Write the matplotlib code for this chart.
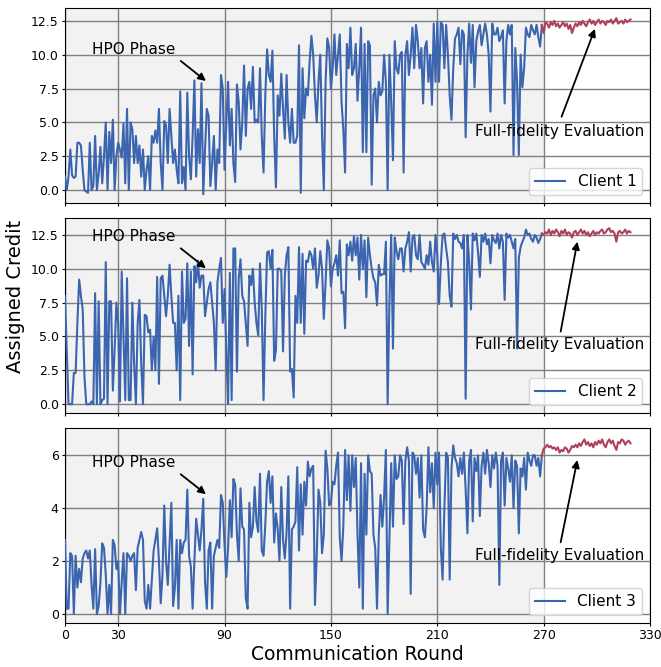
import numpy as np
import matplotlib
matplotlib.use('Agg')
import matplotlib.pyplot as plt

# Assigned credit per communication round (HPO phase, rounds 0-269)
client1_hpo = [
    1.0, 0.0, 1.0, 3.0, 1.1, 0.9, 1.0, 3.5, 3.5, 3.3,
    1.5, 0.0, -0.1, -0.2, 3.5, 0.0, 0.3, 4.0, 0.0, 1.2,
    3.2, 0.5, 2.5, 5.0, 0.0, 4.3, 2.0, 5.2, 0.0, 2.5,
    3.5, 3.0, 2.4, 4.9, 0.5, 6.0, 0.0, 5.0, 4.5, 2.0,
    4.0, 2.0, 3.3, 1.0, 3.0, 0.0, 1.5, 2.5, 0.0, 4.0,
    3.5, 4.4, 3.5, 6.0, 2.0, 0.0, 5.1, 4.8, 2.0, 6.0,
    4.0, 2.0, 3.0, 1.5, 0.5, 7.3, 0.5, 1.7, 0.0, 7.2,
    2.5, 0.8, 4.0, 8.1, 1.0, 4.5, 2.0, 7.9, -0.3, 3.0,
    6.0, 5.5, 0.3, 2.0, 4.0, 0.0, 3.0, 2.0, 8.5, 7.5,
    1.5, 5.0, 8.0, 3.3, 6.0, 2.0, 0.6, 7.8, 6.5, 3.0,
    5.0, 9.2, 4.0, 7.5, 8.0, 6.0, 9.1, 5.0, 5.2, 5.0,
    9.0, 4.0, 1.3, 7.0, 10.4, 8.5, 8.0, 10.3, 4.0, 0.2,
    7.0, 5.5, 8.6, 6.0, 3.8, 8.5, 5.0, 3.5, 6.0, 3.5,
    3.5, 4.0, 10.7, -0.2, 9.0, 5.3, 7.5, 7.0, 9.5, 11.4,
    10.0, 7.0, 5.0, 8.0, 10.0, 4.0, 0.0, 8.0, 11.2, 10.5,
    7.5, 9.0, 11.5, 8.5, 10.0, 11.5, 6.5, 4.5, 1.3, 10.8,
    9.0, 12.0, 8.5, 9.0, 10.8, 6.6, 9.0, 12.0, 2.8, 10.8,
    2.8, 11.0, 10.7, 0.4, 7.0, 7.5, 5.0, 8.0, 7.0, 7.3,
    10.0, 8.0, 0.0, 10.0, 6.5, 2.2, 11.0, 9.0, 8.6, 10.0,
    10.2, 1.3, 10.0, 11.0, 8.5, 10.0, 12.0, 9.0, 12.2, 11.0,
    9.0, 10.5, 6.4, 10.5, 11.0, 8.0, 10.0, 6.3, 12.3, 8.0,
    12.4, 8.0, 12.4, 12.2, 9.0, 12.2, 10.0, 7.0, 5.2, 9.0,
    11.2, 11.5, 12.0, 9.3, 11.8, 11.5, 3.9, 10.0, 12.3, 9.4,
    12.2, 7.6, 11.0, 11.7, 12.2, 10.7, 11.5, 12.3, 11.5, 10.0,
    5.8, 12.3, 11.5, 11.5, 12.0, 11.0, 11.3, 11.8, 6.4, 11.0,
    12.2, 11.5, 12.2, 2.6, 10.5, 8.0, 2.6, 10.0, 7.6, 9.0,
    12.0, 11.5, 11.3, 12.2, 11.8, 11.5, 12.2, 11.3, 10.6, 12.2,
]
client2_hpo = [
    8.0, 4.0, 0.0, 0.0, 0.0, 2.3, 2.3, 6.0, 9.2, 8.0,
    7.0, 2.0, 0.0, 0.0, 0.0, 0.2, 0.0, 8.2, 0.0, 7.6,
    0.0, 0.3, 0.4, 10.5, 0.0, 7.6, 7.6, 1.0, 4.0, 7.5,
    6.0, 0.2, 9.8, 5.0, 0.3, 9.3, 0.3, 0.3, 7.5, 3.0,
    0.0, 6.0, 7.7, 3.0, 0.0, 6.6, 6.5, 5.3, 5.5, 2.5,
    5.0, 2.5, 9.4, 1.5, 9.3, 9.5, 8.0, 6.5, 8.0, 10.3,
    8.0, 6.0, 6.0, 2.5, 8.0, 0.3, 9.8, 6.0, 6.3, 10.4,
    4.3, 9.8, 2.2, 10.2, 9.0, 10.6, 8.6, 9.5, 9.5, 6.5,
    7.5, 8.5, 9.0, 7.5, 6.0, 2.5, 9.0, 10.0, 10.8, 6.0,
    8.5, 4.0, 0.0, 9.7, 0.3, 11.5, 11.5, 2.4, 9.3, 10.7,
    8.0, 7.6, 6.0, 4.3, 9.5, 8.8, 10.0, 7.5, 6.0, 5.1,
    10.4, 7.0, 0.3, 6.5, 11.2, 11.3, 10.0, 11.4, 3.2, 4.0,
    10.0, 10.0, 9.8, 3.9, 9.5, 11.0, 11.6, 2.4, 2.6, 0.5,
    8.0, 6.0, 11.6, 6.0, 11.1, 5.2, 10.6, 10.5, 11.3, 11.0,
    10.0, 11.5, 8.6, 9.5, 11.3, 10.0, 6.3, 9.0, 12.1, 11.5,
    8.7, 10.0, 10.4, 11.0, 9.5, 12.1, 8.2, 8.3, 5.6, 11.8,
    11.0, 12.0, 10.6, 12.4, 11.0, 12.3, 9.2, 12.5, 10.0, 12.1,
    7.9, 12.3, 11.0, 10.0, 9.3, 9.0, 7.3, 10.3, 9.5, 9.6,
    9.6, 12.0, 0.0, 7.5, 12.5, 4.1, 12.3, 11.3, 10.7, 11.5,
    11.5, 9.8, 11.5, 12.0, 12.7, 9.8, 12.3, 12.5, 11.0, 10.7,
    12.5, 10.5, 10.3, 10.0, 11.0, 10.3, 12.0, 10.5, 9.8, 12.5,
    11.0, 7.4, 10.4, 12.5, 12.6, 11.5, 10.5, 8.0, 7.2, 12.6,
    12.2, 12.5, 12.0, 11.9, 11.5, 12.5, 0.4, 12.5, 10.5, 7.0,
    12.6, 12.1, 12.6, 11.2, 9.4, 12.5, 12.0, 12.6, 11.8, 12.2,
    10.4, 12.5, 12.1, 11.9, 12.6, 11.5, 12.5, 12.0, 7.7, 12.6,
    12.3, 12.5, 12.0, 11.5, 12.2, 4.1, 10.8, 11.6, 12.0, 12.3,
    12.9, 12.5, 12.6, 12.2, 12.0, 12.5, 12.3, 11.9, 12.2, 12.6,
]
client3_hpo = [
    2.8, 0.2, 0.2, 2.3, 2.2, 0.0, 2.2, 1.0, 1.7, 1.2,
    2.1, 2.3, 2.4, 2.1, 2.4, 1.1, 0.2, 2.45, 0.0, 0.3,
    1.2, 2.67, 2.5, 1.5, 0.0, 1.1, 0.0, 2.8, 2.6, 1.7,
    2.0, 0.0, 1.2, 2.3, 0.0, 2.3, 2.2, 2.0, 2.2, 2.3,
    0.9, 2.5, 2.8, 3.1, 2.8, 0.5, 0.2, 1.1, 0.2, 1.3,
    2.4, 2.8, 3.24, 2.0, 0.4, 1.5, 4.1, 2.0, 1.1, 2.7,
    4.2, 0.3, 1.0, 2.8, 0.2, 2.8, 2.3, 2.7, 2.8, 4.7,
    2.2, 1.8, 0.2, 2.0, 3.6, 3.0, 2.4, 3.2, 4.35, 1.2,
    0.2, 2.4, 2.7, 0.2, 2.2, 2.5, 2.8, 2.5, 4.5, 4.2,
    2.6, 1.4, 2.5, 4.3, 2.9, 5.1, 4.9, 3.0, 2.0, 4.75,
    3.3, 3.2, 0.6, 0.2, 4.2, 2.9, 3.3, 4.8, 3.5, 3.1,
    5.3, 2.4, 2.2, 3.4, 5.0, 5.4, 4.2, 5.2, 2.7, 3.8,
    3.2, 2.0, 4.8, 2.8, 2.1, 3.1, 5.2, 0.2, 3.2, 3.3,
    3.5, 5.55, 2.4, 4.9, 3.0, 5.0, 4.1, 5.76, 5.2, 5.5,
    5.6, 0.34, 2.2, 4.7, 4.2, 2.3, 3.0, 6.17, 5.5, 4.1,
    4.2, 5.0, 4.9, 5.6, 6.1, 2.9, 2.0, 3.3, 6.2, 4.3,
    6.0, 3.9, 6.0, 4.8, 5.9, 3.0, 1.0, 5.7, 0.2, 5.3,
    3.0, 6.0, 5.4, 5.3, 3.0, 2.5, 0.2, 3.0, 4.5, 3.3,
    4.4, 6.2, 0.0, 2.8, 5.7, 3.3, 6.0, 5.1, 5.2, 6.0,
    5.8, 3.4, 5.8, 6.3, 5.8, 0.76, 6.1, 6.0, 5.3, 5.9,
    4.4, 6.0, 3.2, 2.9, 4.0, 6.3, 4.6, 5.7, 4.0, 6.1,
    4.9, 6.1, 2.5, 1.3, 4.0, 6.1, 5.9, 1.3, 5.5, 6.37,
    5.9, 5.7, 5.2, 5.9, 5.3, 6.1, 4.7, 3.05, 5.8, 6.2,
    3.5, 5.9, 5.4, 6.0, 3.7, 5.6, 6.1, 5.3, 6.2, 5.7,
    4.8, 6.0, 5.5, 6.1, 5.6, 1.1, 5.8, 6.1, 4.1, 5.9,
    5.5, 5.0, 6.0, 4.0, 5.8, 5.6, 3.05, 5.5, 5.2, 5.9,
    4.7, 6.1, 5.8, 5.6, 6.0, 6.0, 5.6, 5.9, 5.2, 6.0,
]

# Full-fidelity evaluation (rounds 270-319)
client1_full = [
    11.6, 12.4, 12.3, 12.0, 12.4, 12.2, 12.5, 12.1, 12.3, 12.0,
    12.2, 12.4, 12.1, 12.3, 11.9, 12.2, 11.6, 12.0, 12.3, 12.1,
    12.4, 12.2, 12.5, 12.3, 12.1, 12.4, 12.6, 12.3, 12.5, 12.2,
    12.4, 12.6, 12.3, 12.5, 12.4, 12.2, 12.5, 12.4, 12.6, 12.3,
    12.5, 12.7, 12.3, 12.4, 12.5, 12.3, 12.6, 12.4, 12.5, 12.6,
]
client2_full = [
    12.5, 12.7, 12.6, 12.9, 12.5, 12.8, 12.6, 12.9, 12.7, 12.4,
    12.8, 12.6, 12.9, 12.5, 12.7, 12.6, 12.3, 12.7, 12.8, 12.5,
    12.7, 12.9, 12.6, 12.8, 12.5, 12.7, 12.4, 12.6, 12.8, 12.5,
    12.7, 12.6, 12.8, 12.9, 12.6, 12.7, 12.9, 13.0, 12.7, 12.8,
    12.6, 12.0, 12.7, 12.8, 12.6, 12.7, 12.9, 12.6, 12.8, 12.7,
]
client3_full = [
    6.25, 6.3, 6.4, 6.3, 6.35, 6.25, 6.3, 6.2, 6.3, 6.1,
    6.2, 6.15, 6.3, 6.25, 6.1, 6.2, 6.35, 6.3, 6.4, 6.3,
    6.45, 6.35, 6.5, 6.6, 6.4, 6.5, 6.35, 6.45, 6.3, 6.5,
    6.4, 6.55, 6.45, 6.6, 6.4, 6.3, 6.5, 6.6, 6.45, 6.55,
    6.35, 6.2, 6.5, 6.45, 6.6, 6.55, 6.4, 6.5, 6.55, 6.45,
]

clients = ['Client 1', 'Client 2', 'Client 3']
hpo_series = [client1_hpo, client2_hpo, client3_hpo]
full_series = [client1_full, client2_full, client3_full]
yticks = [[0, 2.5, 5, 7.5, 10, 12.5], [0, 2.5, 5, 7.5, 10, 12.5], [0, 2, 4, 6]]
ytick_labels = [['0.0', '2.5', '5.0', '7.5', '10.0', '12.5'],
                ['0.0', '2.5', '5.0', '7.5', '10.0', '12.5'],
                ['0', '2', '4', '6']]
ylims = [(-0.95, 13.45), (-0.65, 13.75), (-0.34, 7.03)]
xticks = [0, 30, 90, 150, 210, 270, 330]
hpo_end = 270

# text / arrow anchors in data coords
hpo_text = [(15.2, 10.39), (15.2, 12.35), (15.2, 5.71)]
hpo_arrow = [((65.3, 9.54), (79.5, 8.06)), ((65.3, 11.51), (79.5, 10.04)), ((65.3, 5.28), (79.5, 4.53))]
full_text = [(279.0, 4.31), (279.0, 4.38), (279.0, 2.2)]
full_arrow = [((280.1, 5.42), (298.9, 11.91)), ((279.6, 5.36), (289.0, 12.0)), ((279.6, 2.71), (289.0, 5.82))]

blue = '#3c65b0'
red = '#b0415c'

fig, axes = plt.subplots(3, 1, figsize=(6.61, 6.67), dpi=100, sharex=True)
fig.subplots_adjust(left=0.0983, right=0.9834, top=0.988, bottom=0.066, hspace=0.077)

for i, ax in enumerate(axes):
    hpo = np.array(hpo_series[i])
    full = np.array(full_series[i])
    x_hpo = np.arange(len(hpo))
    x_full = np.arange(len(hpo) - 1, len(hpo) + len(full))
    full_line = np.concatenate([hpo[-1:], full])

    ax.axvspan(0, hpo_end, color='#f2f2f2', zorder=0, lw=0)
    ax.plot(x_hpo, hpo, color=blue, lw=1.5, label=clients[i], zorder=3)
    ax.plot(x_full, full_line, color=red, lw=1.5, zorder=3)

    ax.set_xlim(0, 330)
    ax.set_xticks(xticks)
    ax.set_ylim(*ylims[i])
    ax.set_yticks(yticks[i])
    ax.set_yticklabels(ytick_labels[i])
    ax.tick_params(labelsize=9, length=2.5, pad=2)
    ax.set_axisbelow(True)
    ax.grid(True, color='#808080', lw=1.0)

    ax.text(hpo_text[i][0], hpo_text[i][1], 'HPO Phase', fontsize=11, va='center', ha='left')
    ax.annotate('', xy=hpo_arrow[i][1], xytext=hpo_arrow[i][0],
                arrowprops=dict(arrowstyle='-|>', color='black', lw=1.3, mutation_scale=11,
                                shrinkA=0, shrinkB=0))
    ax.text(full_text[i][0], full_text[i][1], 'Full-fidelity Evaluation', fontsize=11,
            va='center', ha='center', zorder=5)
    ax.annotate('', xy=full_arrow[i][1], xytext=full_arrow[i][0],
                arrowprops=dict(arrowstyle='-|>', color='black', lw=1.3, mutation_scale=11,
                                shrinkA=0, shrinkB=0))
    ax.legend(loc='lower right', fontsize=11)

axes[2].set_xlabel('Communication Round', fontsize=13.5, labelpad=2)
fig.text(0.024, 0.555, 'Assigned Credit', rotation=90, va='center', ha='center', fontsize=14)

fig.savefig('out.png', dpi=100)
